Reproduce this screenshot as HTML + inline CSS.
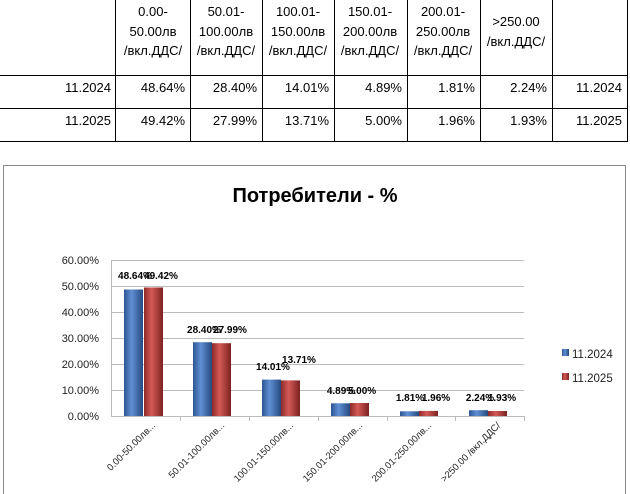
<!DOCTYPE html>
<html><head><meta charset="utf-8"><style>
body{margin:0;width:630px;height:494px;background:#fff;overflow:hidden;font-family:"Liberation Sans","DejaVu Sans",sans-serif;}
</style></head><body>
<svg width="630" height="494" xmlns="http://www.w3.org/2000/svg" style="position:absolute;left:0;top:0">
<defs>
<linearGradient id="gb" x1="0" x2="1" y1="0" y2="0"><stop offset="0" stop-color="#2d5591"/><stop offset="0.4" stop-color="#5f8fd3"/><stop offset="1" stop-color="#254a80"/></linearGradient>
<linearGradient id="gr" x1="0" x2="1" y1="0" y2="0"><stop offset="0" stop-color="#8e2a28"/><stop offset="0.4" stop-color="#d45a57"/><stop offset="1" stop-color="#7a2220"/></linearGradient>
</defs>
<g stroke="#000" stroke-width="1">
<line x1="0" y1="75.5" x2="628" y2="75.5"/>
<line x1="0" y1="108.5" x2="628" y2="108.5"/>
<line x1="0" y1="141.5" x2="628" y2="141.5"/>
<line x1="115.5" y1="0" x2="115.5" y2="141"/>
<line x1="190.5" y1="0" x2="190.5" y2="141"/>
<line x1="262.5" y1="0" x2="262.5" y2="141"/>
<line x1="334.5" y1="0" x2="334.5" y2="141"/>
<line x1="407.5" y1="0" x2="407.5" y2="141"/>
<line x1="480.5" y1="0" x2="480.5" y2="141"/>
<line x1="552.5" y1="0" x2="552.5" y2="141"/>
<line x1="627.5" y1="0" x2="627.5" y2="141"/>
</g>
<g font-size="13" fill="#000" text-anchor="middle">
<text x="153" y="16">0.00-</text><text x="153" y="36">50.00лв</text><text x="153" y="55">/вкл.ДДС/</text>
<text x="226" y="16">50.01-</text><text x="226" y="36">100.00лв</text><text x="226" y="55">/вкл.ДДС/</text>
<text x="298" y="16">100.01-</text><text x="298" y="36">150.00лв</text><text x="298" y="55">/вкл.ДДС/</text>
<text x="370" y="16">150.01-</text><text x="370" y="36">200.00лв</text><text x="370" y="55">/вкл.ДДС/</text>
<text x="443" y="16">200.01-</text><text x="443" y="36">250.00лв</text><text x="443" y="55">/вкл.ДДС/</text>
<text x="516" y="26">&gt;250.00</text><text x="516" y="46">/вкл.ДДС/</text>
</g>
<g font-size="13" fill="#000" text-anchor="end">
<text x="111" y="92">11.2024</text><text x="185" y="92">48.64%</text><text x="257" y="92">28.40%</text><text x="329" y="92">14.01%</text><text x="402" y="92">4.89%</text><text x="475" y="92">1.81%</text><text x="547" y="92">2.24%</text><text x="622" y="92">11.2024</text>
<text x="111" y="125">11.2025</text><text x="185" y="125">49.42%</text><text x="257" y="125">27.99%</text><text x="329" y="125">13.71%</text><text x="402" y="125">5.00%</text><text x="475" y="125">1.96%</text><text x="547" y="125">1.93%</text><text x="622" y="125">11.2025</text>
</g>
<rect x="3.5" y="165.5" width="622" height="340" fill="none" stroke="#888"/>
<text x="315" y="202" font-size="20" font-weight="bold" text-anchor="middle">Потребители - %</text>
<g stroke="#bbb" stroke-width="1">
<line x1="111" y1="260.5" x2="524" y2="260.5"/><line x1="111" y1="286.5" x2="524" y2="286.5"/><line x1="111" y1="312.5" x2="524" y2="312.5"/><line x1="111" y1="338.5" x2="524" y2="338.5"/><line x1="111" y1="364.5" x2="524" y2="364.5"/><line x1="111" y1="390.5" x2="524" y2="390.5"/>
<line x1="111" y1="416.5" x2="524" y2="416.5"/><line x1="111.5" y1="260" x2="111.5" y2="416"/>
<line x1="180.5" y1="416" x2="180.5" y2="421"/><line x1="249.5" y1="416" x2="249.5" y2="421"/><line x1="318.5" y1="416" x2="318.5" y2="421"/><line x1="387.5" y1="416" x2="387.5" y2="421"/><line x1="455.5" y1="416" x2="455.5" y2="421"/><line x1="524.5" y1="416" x2="524.5" y2="421"/>
</g>
<g font-size="11" fill="#222" text-anchor="end">
<text x="99" y="264">60.00%</text><text x="99" y="290">50.00%</text><text x="99" y="316">40.00%</text><text x="99" y="342">30.00%</text><text x="99" y="368">20.00%</text><text x="99" y="394">10.00%</text><text x="99" y="420">0.00%</text>
</g>
<g>
<rect x="124" y="289.5" width="19" height="126.5" fill="url(#gb)"/><rect x="144" y="287.5" width="19" height="128.5" fill="url(#gr)"/>
<rect x="193" y="342.2" width="19" height="73.8" fill="url(#gb)"/><rect x="212" y="343.2" width="19" height="72.8" fill="url(#gr)"/>
<rect x="262" y="379.6" width="19" height="36.4" fill="url(#gb)"/><rect x="281" y="380.4" width="19" height="35.6" fill="url(#gr)"/>
<rect x="331" y="403.3" width="19" height="12.7" fill="url(#gb)"/><rect x="350" y="403" width="19" height="13" fill="url(#gr)"/>
<rect x="400" y="411.3" width="19" height="4.7" fill="url(#gb)"/><rect x="419" y="410.9" width="19" height="5.1" fill="url(#gr)"/>
<rect x="469" y="410.2" width="19" height="5.8" fill="url(#gb)"/><rect x="488" y="411" width="19" height="5" fill="url(#gr)"/>
</g>
<g font-size="10" font-weight="bold" fill="#000" text-anchor="middle">
<text x="135" y="279">48.64%</text><text x="161" y="279">49.42%</text>
<text x="204" y="333">28.40%</text><text x="230" y="333">27.99%</text>
<text x="273" y="370">14.01%</text><text x="299" y="363">13.71%</text>
<text x="341" y="394">4.89%</text><text x="362" y="394">5.00%</text>
<text x="410" y="401">1.81%</text><text x="436" y="401">1.96%</text>
<text x="480" y="401">2.24%</text><text x="502" y="401">1.93%</text>
</g>
<g font-size="9.5" fill="#222" text-anchor="end">
<text transform="translate(156,426) rotate(-45)">0.00-50.00лв...</text>
<text transform="translate(225,426) rotate(-45)">50.01-100.00лв...</text>
<text transform="translate(294,426) rotate(-45)">100.01-150.00лв...</text>
<text transform="translate(363,426) rotate(-45)">150.01-200.00лв...</text>
<text transform="translate(432,426) rotate(-45)">200.01-250.00лв...</text>
<text transform="translate(501,426) rotate(-45)">&gt;250.00 /вкл.ДДС/</text>
</g>
<rect x="562" y="349" width="7" height="7" fill="url(#gb)"/><text x="572" y="358" font-size="11.5" fill="#222">11.2024</text>
<rect x="562" y="373" width="7" height="7" fill="url(#gr)"/><text x="572" y="382" font-size="11.5" fill="#222">11.2025</text>
</svg>
</body></html>
